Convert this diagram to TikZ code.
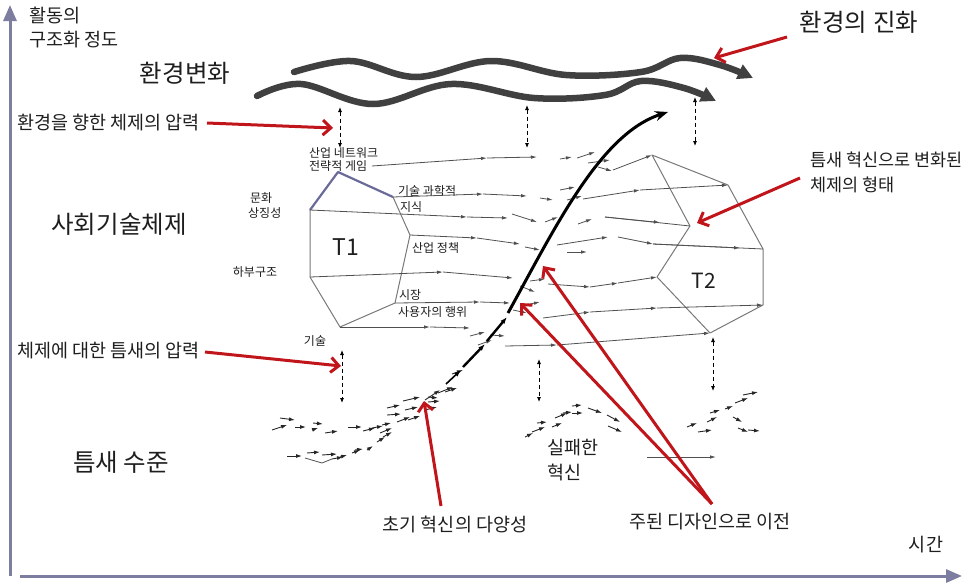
\documentclass[tikz,border=0pt]{standalone}
\usepackage{fontspec}
\setmainfont{Noto Sans CJK KR}
\usetikzlibrary{arrows.meta}
\definecolor{axiscol}{HTML}{7D7DA0}
\definecolor{redcol}{HTML}{C0151B}
\definecolor{wavecol}{HTML}{404040}
\definecolor{polycol}{HTML}{787878}
\definecolor{flowcol}{HTML}{505050}
\definecolor{topcol}{HTML}{6B6B99}
\definecolor{txtcol}{HTML}{1E1E1E}
\begin{document}
\begin{tikzpicture}[x=1pt,y=-1pt,
  axis/.style={draw=axiscol,line width=3pt,-{Triangle[length=16pt,width=13pt]}},
  redarrow/.style={draw=redcol,line width=3pt,-{Straight Barb[length=8pt,width=15pt]}},
  wave/.style={draw=wavecol,line width=6.5pt,line cap=round,-{Triangle[length=15pt,width=15pt]}},
  vdash/.style={draw=black,line width=0.8pt,dash pattern=on 4pt off 3pt,{Latex[length=5pt,width=4pt]}-{Latex[length=5pt,width=4pt]}},
  flow/.style={draw=flowcol,line width=0.8pt,-{Latex[length=6pt,width=3.5pt]}},
  plain/.style={draw=flowcol,line width=0.8pt},
  poly/.style={draw=polycol,line width=1pt,line join=round},
  toppoly/.style={draw=topcol,line width=2.2pt,line join=round},
  nich/.style={draw=black!85,line width=0.9pt,-{Latex[length=6pt,width=4pt]}},
  thick arrow/.style={draw=black,line width=2.4pt,-{Latex[length=7pt,width=5pt]}},
  bigcurve/.style={draw=black,line width=3pt,-{Stealth[length=13pt,width=10pt]}},
  txt/.style={inner sep=0pt,text=txtcol},
  big/.style={txt,font=\fontsize{24.5}{28}\selectfont},
  mid/.style={txt,font=\fontsize{18.5}{22}\selectfont},
  sm/.style={txt,font=\fontsize{12}{14}\selectfont}]
\useasboundingbox (0,0) rectangle (972,584);

% axes
\coordinate (o1) at (10,576);
\coordinate (ytop) at (10,5);
\coordinate (o2) at (20,576);
\coordinate (xend) at (962,576);
\draw[axis] (o1) -- (ytop);
\draw[axis] (o2) -- (xend);

% texts
\node[mid,anchor=west] (yl1) at (29,16) {활동의};
\node[mid,anchor=west] (yl2) at (29,40) {구조화 정도};
\node[big] (env) at (185,73) {환경변화};
\node[big] (evo) at (859,22) {환경의 진화};
\node[mid,anchor=west] (press1) at (17,123) {환경을 향한 체제의 압력};
\node[big] (regime) at (119,224) {사회기술체제};
\node[mid,anchor=west] (press2) at (17,351) {체제에 대한 틈새의 압력};
\node[big] (niche) at (121,462) {틈새 수준};
\node[mid,anchor=west,font=\fontsize{17.5}{21}\selectfont] (tr1) at (810,160) {틈새 혁신으로 변화된};
\node[mid,anchor=west,font=\fontsize{17.5}{21}\selectfont] (tr2) at (810,185) {체제의 형태};
\node[mid] (early) at (455,524) {초기 혁신의 다양성};
\node[mid] (dom) at (710,522) {주된 디자인으로 이전};
\node[mid,anchor=west] (fail1) at (547,448) {실패한};
\node[mid,anchor=west] (fail2) at (547,472) {혁신};
\node[mid] (time) at (926,545) {시간};
\node[big,font=\fontsize{23}{26}\selectfont] (T1) at (346,247) {T1};
\node[big,font=\fontsize{21}{24}\selectfont] (T2) at (704,281) {T2};

\node[sm,anchor=west] (s1) at (309,153) {산업 네트워크};
\node[sm,anchor=west] (s2) at (309,166) {전략적 게임};
\node[sm,anchor=west] (s3) at (250,198) {문화};
\node[sm,anchor=west] (s4) at (248,213) {상징성};
\node[sm] (s5) at (255,272) {하부구조};
\node[sm] (s6) at (315,341) {기술};
\node[sm,anchor=west] (s7) at (398,191) {기술 과학적};
\node[sm,anchor=west] (s8) at (400,207) {지식};
\node[sm,anchor=west] (s9) at (412,248) {산업 정책};
\node[sm,anchor=west] (s10) at (399,295) {시장};
\node[sm,anchor=west] (s11) at (398,312) {사용자의 행위};

% waves
\draw[wave] plot[smooth,tension=0.6] coordinates {(294,72) (351,61) (416,77) (491,61) (566,75) (641,72) (680,58) (720,65) (753,78)};
\draw[wave] plot[smooth,tension=0.6] coordinates {(257,96) (301,84) (373,104) (451,84) (534,98) (605,95) (641,81) (684,88) (716,101)};

% dashed double arrows
\coordinate (d1a) at (340,107); \coordinate (d1b) at (340,148);
\coordinate (d2a) at (527,105); \coordinate (d2b) at (527,148);
\coordinate (d3a) at (695,97);  \coordinate (d3b) at (695,146);
\coordinate (d4a) at (342,350); \coordinate (d4b) at (342,403);
\coordinate (d5a) at (539,359); \coordinate (d5b) at (539,402);
\coordinate (d6a) at (713,337); \coordinate (d6b) at (713,391);
\draw[vdash] (d1a) -- (d1b);
\draw[vdash] (d2a) -- (d2b);
\draw[vdash] (d3a) -- (d3b);
\draw[vdash] (d4a) -- (d4b);
\draw[vdash] (d5a) -- (d5b);
\draw[vdash] (d6a) -- (d6b);

% T1 polygon
\coordinate (t1a) at (338,172);
\coordinate (t1b) at (310,210);
\coordinate (t1c) at (310,277);
\coordinate (t1d) at (340,327);
\coordinate (t1e) at (395,303);
\coordinate (t1f) at (410,235);
\coordinate (t1g) at (393,197);
\draw[poly] (t1b) -- (t1c) -- (t1d) -- (t1e) -- (t1f) -- (t1g);
\draw[toppoly] (t1b) -- (t1a) -- (t1g);

% T2 polygon
\coordinate (u1) at (652,155);
\coordinate (u2) at (728,185);
\coordinate (u3) at (763,249);
\coordinate (u4) at (763,305);
\coordinate (u5) at (710,333);
\coordinate (u6) at (657,277);
\coordinate (u7) at (690,226);
\draw[poly] (u1) -- (u2) -- (u3) -- (u4) -- (u5) -- (u6) -- (u7) -- cycle;

% flows
% F1
\coordinate (f1s) at (372,166);
\draw[flow] (f1s) -- (487,158);
\draw[flow] (487,158) -- (537,157);
\draw[flow] (560,159) -- (572,157);
\draw[flow] (577,158) -- (595,152);
\draw[flow] (588,163) -- (610,160);
\draw[flow] (598,167) -- (612,171);
\draw[flow] (613,170) -- (u1);
% F2
\draw[flow] (t1g) -- (483,194);
\draw[flow] (483,194) -- (527,196);
\draw[flow] (540,198) -- (553,200);
\draw[flow] (560,190) -- (575,187);
\draw[flow] (567,200) -- (582,196);
\draw[flow] (583,199) -- (640,190);
\draw[flow] (640,190) -- (u2);
% F3
\draw[flow] (t1b) -- (467,217);
\draw[flow] (467,217) -- (508,218);
\draw[flow] (512,214) -- (537,222);
\draw[flow] (545,222) -- (558,217);
\draw[flow] (578,224) -- (592,219);
\draw[plain] (605,217) -- (u7);
\draw[flow] (605,217) -- (660,222.5);
% F4
\draw[flow] (t1f) -- (477,238);
\draw[flow] (477,238) -- (520,244);
\draw[flow] (525,247) -- (540,250);
\draw[flow] (557,245) -- (608,237);
\draw[flow] (567,252) -- (587,252);
\draw[flow] (618,237) -- (653,244);
\draw[plain] (653,244) -- (u3);
\draw[flow] (653,244) -- (740,248);
% F5
\draw[flow] (t1c) -- (443,272);
\draw[flow] (443,272) -- (513,278);
\draw[flow] (520,286) -- (535,292);
\draw[flow] (530,281) -- (545,279);
\draw[flow] (548,284) -- (590,287);
\draw[flow] (590,287) -- (618,283);
\draw[flow] (618,283) -- (u6);
% F6
\draw[flow] (t1e) -- (480,302);
\draw[flow] (480,302) -- (510,303);
\draw[flow] (513,310) -- (527,313);
\draw[flow] (525,305) -- (540,302);
\draw[flow] (543,318) -- (590,312);
\draw[flow] (590,312) -- (657,308);
\draw[flow] (657,308) -- (u4);
% F7
\draw[flow] (t1d) -- (430,327);
\draw[flow] (430,327) -- (470,328);
\draw[flow] (470,336) -- (485,332);
\draw[flow] (478,345) -- (492,340);
\draw[flow] (490,335) -- (505,336);
\draw[flow] (505,346) -- (557,345);
\draw[flow] (557,345) -- (u5);

% niche arrows (left)
\foreach \a/\b/\c/\d in {272/430/287/425, 280/418/295/420, 295/427/306/427, 313/423/323/424, 312/430/318/428,
  325/433/338/431, 348/427/362/427, 363/431/375/428, 372/428/383/426, 382/425/391/423, 380/433/392/428,
  387/415/401/414, 387/408/400/405, 397/422/410/417, 403/401/420/397, 405/410/418/407, 408/420/420/416,
  428/397/438/398, 428/402/440/401, 425/410/437/407, 438/393/453/387, 445/392/457/388, 452/374/463/370,
  287/456/302/456, 307/453/320/452, 322/455/337/454, 332/459/343/457, 340/457/347/455, 352/453/360/450,
  355/450/363/449, 367/450/373/446, 377/442/385/437, 383/437/392/432}
  \draw[nich] (\a,\b) -- (\c,\d);
\draw[plain] (305,458) -- (322,463) -- (332,459);

% niche arrows (right)
\foreach \a/\b/\c/\d in {525/437/533/433, 532/432/545/427, 537/423/547/422, 552/427/562/423, 555/418/567/413,
  563/413/572/412, 572/406/582/405, 572/413/583/413, 588/408/602/413, 607/415/620/422, 608/426/622/432,
  687/427/697/423, 698/432/712/430, 707/422/717/417, 710/413/720/410, 725/409/733/406, 735/403/748/398,
  743/395/758/392, 733/417/742/422, 738/428/748/432, 748/430/760/431}
  \draw[nich] (\a,\b) -- (\c,\d);
\coordinate (h1) at (647,457); \coordinate (h2) at (716,457);
\draw[flow] (h1) -- (h2);

% main trajectory
\draw[nich] (425,400) -- (440,390);
\draw[thick arrow,line width=1.6pt] (446,384) -- (461,370);
\draw[thick arrow] (463,367) -- (485,344);
\draw[thick arrow] (487,341) -- (507,317);
\coordinate (c0) at (508,313);
\coordinate (c1) at (668,112);
\draw[bigcurve] (c0) .. controls (555,228) and (600,134) .. (c1);

% red arrows
\coordinate (r1s) at (207,123); \coordinate (r1e) at (333,128);
\coordinate (r2s) at (205,352); \coordinate (r2e) at (341,366);
\coordinate (r3s) at (787,37);  \coordinate (r3e) at (714,58);
\coordinate (r4s) at (800,178); \coordinate (r4e) at (697,223);
\coordinate (r5s) at (441,506); \coordinate (r5e) at (424,401);
\coordinate (r6s) at (712,504); \coordinate (r6e) at (543,266);
\coordinate (r7e) at (520,303);
\draw[redarrow] (r1s) -- (r1e);
\draw[redarrow] (r2s) -- (r2e);
\draw[redarrow] (r3s) -- (r3e);
\draw[redarrow] (r4s) -- (r4e);
\draw[redarrow] (r5s) -- (r5e);
\draw[redarrow] (r6s) -- (r6e);
\draw[redarrow] (r6s) -- (r7e);
\end{tikzpicture}
\end{document}
